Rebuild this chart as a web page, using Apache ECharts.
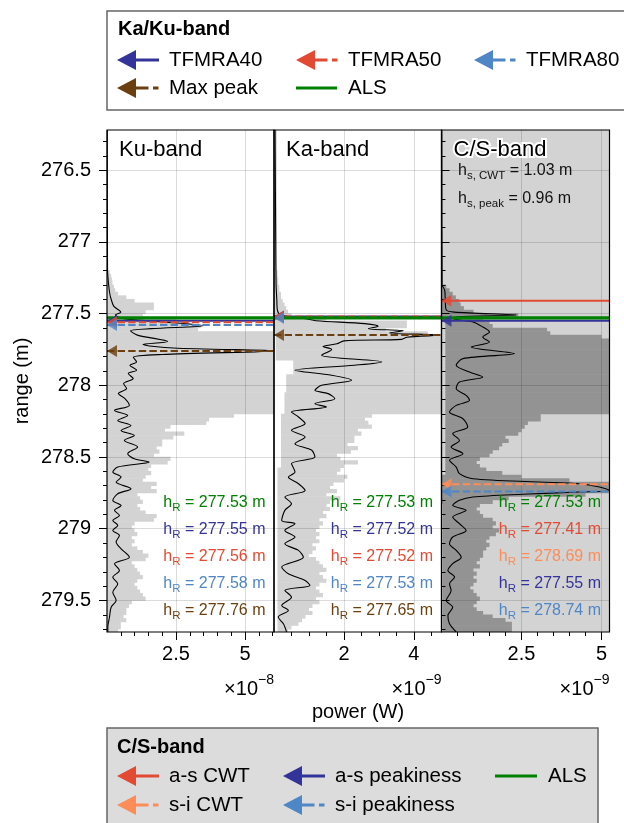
<!DOCTYPE html>
<html><head><meta charset="utf-8">
<script src="https://cdn.jsdelivr.net/npm/echarts@6/dist/echarts.min.js"></script>
<style>html,body{margin:0;padding:0;background:#fff}#c{width:624px;height:823px}</style>
</head><body><div id="c"></div><script>
// ---------------- DATA ----------------
const binStart = 277.20, binStep = 0.025;   // range bins of the envelope (m)
const kuMax = [0.10,0.15,0.18,0.20,
 0.25,0.30,0.40,0.70,1.00,1.70,1.70,1.40,1.30,2.50,3.00,3.40,3.30,
 6.5,6.5,6.5,6.5,6.5,6.5,6.5,6.5,6.5,6.5,6.5,6.5,6.5,6.5,6.5,6.5,6.5,6.5,6.5,6.5,6.5,6.5,6.5,
 4.6,3.7,3.6,2.3,2.1,2.8,2.4,2.0,2.0,1.8,1.9,1.7,2.3,2.2,1.6,1.5,1.6,1.4,1.3,1.8,1.6,1.8,1.1,1.2,
 1.3,1.1,1.2,1.4,1.8,1.7,1.0,0.9,1.0,1.1,0.9,1.0,0.9,1.1,1.3,1.5,1.4,0.9,1.0,1.1,1.2,1.3,1.1,1.0,
 1.1,1.2,1.3,1.4,0.9,0.8,0.7,0.7,0.6,0.7,0.5,0.5,0.4,0.4];
const kaMax = [0.10,0.10,0.12,0.12,
 0.15,0.15,0.20,0.20,0.25,0.30,0.35,0.40,0.50,1.50,3.80,3.80,3.20,4.40,
 5.0,5.0,5.0,5.0,5.0,5.0,5.0,5.0,5.0,5.0,5.0,5.0,5.0,5.0,5.0,5.0,5.0,5.0,5.0,5.0,5.0,5.0,
 2.8,2.6,2.7,2.8,2.4,2.5,2.3,2.3,2.1,2.4,2.2,1.8,1.9,2.4,2.0,1.9,1.8,2.1,2.0,1.7,1.6,1.8,1.5,1.9,
 1.6,1.5,1.6,1.4,1.5,1.3,1.4,1.3,1.2,1.3,1.2,1.3,1.1,1.2,1.1,1.0,1.2,1.3,1.4,1.5,1.3,1.4,1.5,1.3,
 1.2,1.3,1.4,1.2,1.3,1.1,1.0,1.1,0.9,0.8,0.7,0.5,0.4,0.4];
const kaMin = [0,0,0,0,
 0,0,0,0,0,0,0,0,0,0,0,0,0,0,
 0.05,0.05,0.05,0.05,0.05,0.05,0.05,0.55,0.55,0.55,0.55,0.35,0.35,0.35,0.35,0.35,0.3,0.3,0.3,0.3,0.3,0.3,
 0.2,0.2,0.2,0.2,0.2,0.2,0.2,0.2,0.2,0.2,0.2,0.2,0.2,0.2,0.2,
 0.1,0.1,0.1,0.1,0.1,0.1,0.1,0.1,0.1,0.1,0.1,0.1,0.1,0.1,0.1,0.1,0.1,0.1,0.1,0.1,0.1,0.1,0.1,0.1,
 0.1,0.1,0.1,0.1,0.1,0.1,0.1,0.1,0.1,0.1,0.1,0.1,0.1,0.1,0.1,0.1,0.1,0.1,0.1,0.1,0.1,0.1,0.1];
const kaTopBand = [276.22, 277.20, 0, 0.08];
const csMax = [0,0,0,0,
 0.15,0.25,0.35,0.45,0.55,0.6,0.7,1.0,2.4,1.3,1.5,1.6,3.3,3.4,5.0,
 5.6,5.6,5.6,5.6,5.6,5.6,5.6,5.6,5.6,5.6,5.6,5.6,5.6,5.6,5.6,5.6,5.6,5.6,5.6,5.6,5.6,
 3.1,3.1,2.7,2.6,2.5,2.4,2.0,2.1,1.9,1.8,1.6,1.5,1.2,1.1,1.2,1.4,1.9,2.5,4.0,5.6,5.6,5.6,4.5,2.1,
 1.6,1.2,1.1,1.2,1.3,1.6,1.7,1.6,1.8,1.7,1.5,1.4,1.5,1.4,1.3,1.3,1.2,1.1,1.2,1.0,1.1,1.0,1.1,1.0,
 0.9,1.0,1.1,1.2,1.1,1.0,1.1,1.3,1.6,2.0,2.2,2.2,2.2,2.2];
const csMin = [0,0,0,0,
 0,0,0,0,0,0,0,0,0,0,
 0.12,0.12,0.12,0.12,0.12,0.12,0.12,0.12,0.12,0.12,0.12,0.12,0.12,0.12,0.12,0.12,0.12,0.12,0.12,0.12,0.12,
 0.12,0.12,0.12,0.12,0.12,0.12,0.12,0.12,0.12,0.12,0.12,0.12,0.12,0.12,0.12,0.12,0.12,0.12,0.12,0.12,0.12,0.12,
 0,0,0,0,0,0,0,0,
 0.04,0.04,0.04,0.04,0.04,0.04,0.04,0.04,0.04,0.04,0.04,0.04,0.04,0.04,0.04,0.04,0.04,0.04,0.04,0.04,
 0.04,0.04,0.04,0.04,0.04,0.04,0.04,0.04,0.04,0.04,0.04,0.04,0.04,0.04,0.04,0.04,0.04];

// mean waveforms: [range (m), power]
const kuWave = [[276.22,0.01],[277.2,0.02],[277.3,0.06],[277.36,0.1],[277.40,0.15],[277.45,0.25],[277.49,0.5],[277.51,0.3],
 [277.535,0.6],[277.555,1.8],[277.585,3.5],[277.605,1.6],[277.62,0.85],[277.65,1.1],[277.695,2.2],[277.715,1.3],[277.74,2.4],
 [277.76,6.05],[277.785,2.0],[277.805,0.95],[277.837,1.07],[277.86,0.83],[277.895,1.07],[277.918,0.77],[277.953,0.95],
 [277.988,0.6],[278.023,0.71],[278.058,0.41],[278.093,0.65],[278.14,0.81],[278.175,0.27],[278.21,0.75],[278.245,0.39],
 [278.28,0.87],[278.315,0.51],[278.35,0.99],[278.384,0.63],[278.43,1.11],[278.477,0.75],[278.512,0.99],[278.535,1.53],
 [278.57,0.39],[278.605,0.21],[278.64,0.51],[278.675,0.33],[278.721,0.87],[278.756,0.39],[278.803,0.21],[278.838,0.51],
 [278.872,0.27],[278.907,0.45],[278.942,0.21],[278.977,0.39],[279.012,0.21],[279.047,0.45],[279.093,0.33],[279.14,0.51],
 [279.198,0.81],[279.245,0.27],[279.291,0.45],[279.338,0.21],[279.384,0.39],[279.442,0.21],[279.5,0.33],[279.547,0.15],
 [279.617,0.09],[279.686,0.03],[279.72,0.03]];
const kaWave = [[276.22,0.03],[277.0,0.05],[277.3,0.06],[277.40,0.08],[277.48,0.1],[277.51,0.2],[277.535,0.9],[277.55,1.2],
 [277.57,2.6],[277.588,2.98],[277.605,2.7],[277.62,3.7],[277.635,3.3],[277.65,4.75],[277.665,3.8],[277.68,3.65],[277.69,2.0],
 [277.71,1.8],[277.73,1.4],[277.75,1.65],[277.79,1.36],[277.837,3.08],[277.86,2.3],[277.895,0.6],[277.93,1.65],[277.965,2.22],
 [278.0,1.36],[278.035,1.17],[278.058,1.55],[278.093,1.74],[278.128,1.17],[278.151,1.5],[278.186,0.5],[278.221,0.7],
 [278.267,0.89],[278.314,0.5],[278.36,0.89],[278.407,0.6],[278.453,1.08],[278.5,1.17],[278.546,0.5],[278.605,0.6],
 [278.64,0.41],[278.686,0.7],[278.733,0.89],[278.779,0.31],[278.826,0.5],[278.872,0.31],[278.942,0.22],[278.965,0.6],
 [279.012,0.31],[279.058,0.6],[279.105,0.31],[279.151,0.7],[279.198,0.84],[279.267,0.22],[279.314,0.41],[279.361,0.89],
 [279.395,1.03],[279.43,0.31],[279.477,0.5],[279.535,0.22],[279.57,0.41],[279.616,0.12],[279.663,0.27],[279.72,0.36]];
const csWave = [[276.22,0.01],[277.3,0.02],[277.337,0.1],[277.42,0.12],[277.475,0.15],[277.49,0.4],[277.51,2.33],[277.522,0.5],
 [277.535,0.35],[277.558,0.98],[277.593,1.29],[277.628,1.5],[277.663,1.29],[277.698,1.5],[277.733,0.93],[277.779,2.28],
 [277.814,0.67],[277.86,0.46],[277.907,0.875],[277.942,1.29],[277.977,0.56],[278.023,0.46],[278.07,0.77],[278.105,0.875],
 [278.14,0.46],[278.186,0.25],[278.233,0.67],[278.29,0.82],[278.337,0.35],[278.384,0.56],[278.43,0.30],[278.477,0.67],
 [278.523,0.25],[278.57,0.46],[278.616,0.56],[278.651,0.98],[278.674,3.06],[278.686,4.3],[278.709,4.94],[278.733,5.25],
 [278.744,4.3],[278.76,2.54],[278.779,0.98],[278.802,0.56],[278.837,0.35],[278.872,0.77],[278.919,0.35],[278.965,0.56],
 [279.012,0.77],[279.058,0.35],[279.105,0.25],[279.151,0.46],[279.198,0.615],[279.244,0.35],[279.291,0.2],[279.337,0.41],
 [279.384,0.25],[279.43,0.3],[279.5,0.15],[279.547,0.35],[279.605,0.2],[279.663,0.25],[279.72,0.46]];

const alsRange = 277.53;
const kuKaRetrackers = ['TFMRA40','TFMRA50','TFMRA80','Max peak'];
const kuHR = [277.55, 277.56, 277.58, 277.76];
const kaHR = [277.52, 277.52, 277.53, 277.65];
const csRetrackers = ['a-s CWT','s-i CWT','a-s peakiness','s-i peakiness'];
const csHR = [277.41, 278.69, 277.55, 278.74];
const hsCWT = 1.03, hsPeak = 0.96;

const panelNames = ['Ku-band','Ka-band','C/S-band'];
const yMin = 276.22, yMax = 279.72;
const yMajor = [276.5, 277, 277.5, 278, 278.5, 279, 279.5];
const xMaxes = [6.05, 4.79, 5.25];
const xMajor = [[2.5, 5], [2, 4], [2.5, 5]];
const xMinorStep = 0.5;
const xExponent = ['\u22128', '\u22129', '\u22129'];

// ---------------- STYLE ----------------
const FONT = 'Liberation Sans, Arial, Helvetica, sans-serif';
const COL = {green:'#008000', dblue:'#333399', red:'#e34a33', lblue:'#4f86c6', orange:'#fc8d59', brown:'#6b3f0f'};
const kuKaStyle = [{c:COL.dblue, d:false},{c:COL.red, d:true},{c:COL.lblue, d:true},{c:COL.brown, d:true}];
const csStyle = [{c:COL.red, d:false},{c:COL.orange, d:true},{c:COL.dblue, d:false},{c:COL.lblue, d:true}];
const panels = [{left:107, width:167}, {left:274, width:167.5}, {left:441.5, width:168}];
const TOP = 130, H = 502;

function rnd(v){ return Math.round(v*1000)/1000; }
const yMinor = []; for (let v = 276.3; v < yMax; v += 0.1) yMinor.push(rnd(v));

const chart = echarts.init(document.getElementById('c'), null, {renderer:'canvas'});
const option = {animation:false, backgroundColor:'#fff', grid:[], xAxis:[], yAxis:[], series:[], graphic:[]};

function envData(maxArr, minArr, extra) {
  const out = [];
  if (extra) out.push(extra);
  for (let k = 0; k < maxArr.length; k++) {
    const r0 = rnd(binStart + k*binStep);
    out.push([r0, rnd(r0 + binStep), minArr ? minArr[k] : 0, maxArr[k]]);
  }
  return out;
}
function envSeries(g, data, color) {
  return {type:'custom', xAxisIndex:2*g, yAxisIndex:2*g, z:2, silent:true, clip:true,
    encode:{x:[2,3], y:[0,1]}, data,
    renderItem(params, api) {
      const a = api.coord([api.value(2), api.value(0)]);
      const b = api.coord([api.value(3), api.value(1)]);
      const cs = params.coordSys;
      const r = echarts.graphic.clipRectByRect(
        {x:Math.min(a[0],b[0]), y:Math.min(a[1],b[1]) - 0.3, width:Math.abs(b[0]-a[0]), height:Math.abs(b[1]-a[1]) + 0.6},
        {x:cs.x, y:cs.y, width:cs.width, height:cs.height});
      if (!r || r.width <= 0) return null;
      return {type:'rect', shape:r, style:{fill:color}};
    }};
}
const ARROW = 'path://M0,6L10,0L10,12Z';
function hLine(g, r, color, dashed, width, arrow) {
  const s = [{type:'line', xAxisIndex:2*g, yAxisIndex:2*g, z:5, silent:true, symbol:'none',
    data:[[0, r], [xMaxes[g], r]],
    lineStyle:{color, width, type: dashed ? [7.4, 3.2] : 'solid'}}];
  if (arrow) s.push({type:'scatter', xAxisIndex:2*g, yAxisIndex:2*g, z:6, silent:true, clip:false,
    symbol:ARROW, symbolSize:[10,12], symbolOffset:[5,0], itemStyle:{color}, data:[[0, r]]});
  return s;
}
function txt(x, y, text, st) {
  return {type:'text', x, y, z:100, silent:true,
    style:Object.assign({text, fill:'#000', fontSize:20, fontFamily:FONT, align:'left', verticalAlign:'middle'}, st||{})};
}
function subTxt(x, y, main, sub, rest, color, align) {
  return {type:'text', x, y, z:100, silent:true, style:{
    text:'{a|'+main+'}{b|'+sub+'}{a|'+rest+'}', align, verticalAlign:'middle',
    rich:{a:{fontSize:16, fontFamily:FONT, fill:color, lineHeight:22},
          b:{fontSize:11.5, fontFamily:FONT, fill:color, verticalAlign:'bottom'}}}};
}

for (let g = 0; g < 3; g++) {
  const p = panels[g];
  option.grid.push({left:p.left, top:TOP, width:p.width, height:H, show:g===2,
    backgroundColor:'#d3d3d3', borderWidth:0});
  const xMinor = []; for (let v = xMinorStep; v <= xMaxes[g]; v += xMinorStep) xMinor.push(rnd(v));
  option.xAxis.push({type:'value', gridIndex:g, min:0, max:xMaxes[g], position:'bottom', z:3,
    axisLine:{show:false},
    axisTick:{show:true, length:8, customValues:xMajor[g], lineStyle:{color:'#000', width:1}},
    axisLabel:{show:true, customValues:xMajor[g], fontSize:20, fontFamily:FONT, color:'#000', margin:12,
      formatter:v => String(v)},
    splitLine:{show:true, lineStyle:{color:'rgba(0,0,0,0.14)', width:1}}});
  option.xAxis.push({type:'value', gridIndex:g, min:0, max:xMaxes[g], position:'bottom', z:3,
    axisLine:{show:false}, axisLabel:{show:false}, splitLine:{show:false},
    axisTick:{show:true, length:4, customValues:xMinor, lineStyle:{color:'#000', width:1}}});
  const pos = g === 2 ? 'right' : 'left';
  option.yAxis.push({type:'value', gridIndex:g, min:yMin, max:yMax, inverse:true, position:pos, z:3,
    axisLine:{show:false},
    axisTick:{show:g!==1, length:8, customValues:yMajor, lineStyle:{color:'#000', width:1}},
    axisLabel:{show:g===0, customValues:yMajor, fontSize:20, fontFamily:FONT, color:'#000', margin:16,
      formatter:v => String(Math.round(v*10)/10)},
    splitLine:{show:true, lineStyle:{color:'rgba(0,0,0,0.14)', width:1}}});
  option.yAxis.push({type:'value', gridIndex:g, min:yMin, max:yMax, inverse:true, position:pos, z:3,
    axisLine:{show:false}, axisLabel:{show:false}, splitLine:{show:false},
    axisTick:{show:g!==1, length:4, customValues:yMinor, lineStyle:{color:'#000', width:1}}});
  // frame
  option.graphic.push({type:'rect', z:90, silent:true, shape:{x:p.left, y:TOP, width:p.width, height:H},
    style:{fill:'none', stroke:'#000', lineWidth:1.2}});
  // panel title
  const tst = {fontSize:22};
  if (g === 2) Object.assign(tst, {stroke:'#fff', lineWidth:4, strokeFirst:true});
  option.graphic.push(txt(p.left + 12, 150, panelNames[g], tst));
  // exponent
  option.graphic.push({type:'text', x:p.left + p.width, y:689, z:100, silent:true, style:{
    text:'{a|\u00d710}{s|'+xExponent[g]+'}', align:'right', verticalAlign:'middle',
    rich:{a:{fontSize:20, fontFamily:FONT, fill:'#000', lineHeight:32}, s:{fontSize:14, fontFamily:FONT, fill:'#000', verticalAlign:'top'}}}});
}

// envelopes
option.series.push(envSeries(0, envData(kuMax, null), '#d3d3d3'));
option.series.push(envSeries(1, envData(kaMax, kaMin, kaTopBand), '#d3d3d3'));
option.series.push(envSeries(2, envData(csMax, csMin), '#939393'));
// waveforms
[kuWave, kaWave, csWave].forEach((w, g) => {
  option.series.push({type:'line', xAxisIndex:2*g, yAxisIndex:2*g, z:4, silent:true, showSymbol:false, symbol:'none',
    smooth:0.3, data:w.map(d => [d[1], d[0]]), lineStyle:{color:'#000', width:1.1}});
});
// retracker lines
[[kuHR, kuKaStyle], [kaHR, kuKaStyle], [csHR, csStyle]].forEach(([vals, sty], g) => {
  vals.forEach((v, k) => { option.series.push(...hLine(g, v, sty[k].c, sty[k].d, 2, true)); });
  option.series.push(...hLine(g, alsRange, COL.green, false, 3.2, false));
});
// h_R annotations
const hrY = [503, 530, 557, 584, 611];
[[kuHR, kuKaStyle], [kaHR, kuKaStyle], [csHR, csStyle]].forEach(([vals, sty], g) => {
  const xr = panels[g].left + panels[g].width - 8.5;
  const list = [[alsRange, COL.green]].concat(vals.map((v, k) => [v, sty[k].c]));
  list.forEach(([v, c], k) => option.graphic.push(subTxt(xr, hrY[k], 'h', 'R', ' = ' + v.toFixed(2) + ' m', c, 'right')));
});
option.graphic.push(subTxt(458, 171, 'h', 's, CWT', ' = ' + hsCWT.toFixed(2) + ' m', '#111', 'left'));
option.graphic.push(subTxt(458, 199, 'h', 's, peak', ' = ' + hsPeak.toFixed(2) + ' m', '#111', 'left'));

// axis titles
option.graphic.push(txt(358, 712, 'power (W)', {align:'center'}));
option.graphic.push({type:'text', x:22, y:381, rotation:Math.PI/2, z:100, silent:true,
  style:{text:'range (m)', fill:'#000', fontSize:20, fontFamily:FONT, align:'center', verticalAlign:'middle'}});

// legends
function handle(x, y, color, dashed, arrow, len) {
  const els = [];
  const L = len || 42;
  if (arrow) els.push({type:'polygon', z:101, silent:true, shape:{points:[[x, y], [x+19, y-10], [x+19, y+10]]}, style:{fill:color}});
  const x0 = arrow ? x + 17 : x;
  if (!dashed) els.push({type:'line', z:100, silent:true, shape:{x1:x0, y1:y, x2:x+L, y2:y}, style:{stroke:color, lineWidth:3}});
  else {
    els.push({type:'line', z:100, silent:true, shape:{x1:x0, y1:y, x2:x+31.5, y2:y}, style:{stroke:color, lineWidth:3}});
    els.push({type:'line', z:100, silent:true, shape:{x1:x+36, y1:y, x2:x+L-0.5, y2:y}, style:{stroke:color, lineWidth:3}});
  }
  return els;
}
// top legend (Ka/Ku-band) - box runs past the right edge of the picture
option.graphic.push({type:'rect', z:95, silent:true, shape:{x:107, y:11, width:540, height:99}, style:{fill:'#fff', stroke:'#666', lineWidth:1.5}});
option.graphic.push(txt(118, 29, 'Ka/Ku-band', {fontWeight:'bold'}));
const topPos = [[117, 60], [296, 60], [474, 60], [117, 88]];
kuKaRetrackers.forEach((n, k) => {
  const [x, y] = topPos[k];
  option.graphic.push(...handle(x, y, kuKaStyle[k].c, kuKaStyle[k].d, true));
  option.graphic.push(txt(x + 52, y, n, {fontSize:20.5}));
});
option.graphic.push(...handle(296, 88, COL.green, false, false, 41));
option.graphic.push(txt(348, 88, 'ALS', {fontSize:20.5}));
// bottom legend (C/S-band)
option.graphic.push({type:'rect', z:95, silent:true, shape:{x:107, y:728, width:491, height:110}, style:{fill:'#dcdcdc', stroke:'#666', lineWidth:1.5}});
option.graphic.push(txt(117, 747, 'C/S-band', {fontWeight:'bold'}));
const botPos = [[117, 776], [117, 805], [283, 776], [283, 805]];
csRetrackers.forEach((n, k) => {
  const [x, y] = botPos[k];
  option.graphic.push(...handle(x, y, csStyle[k].c, csStyle[k].d, true));
  option.graphic.push(txt(x + 52, y, n, {fontSize:20.5}));
});
option.graphic.push(...handle(495, 776, COL.green, false, false, 42));
option.graphic.push(txt(548, 776, 'ALS', {fontSize:20.5}));

chart.setOption(option);
</script></body></html>
